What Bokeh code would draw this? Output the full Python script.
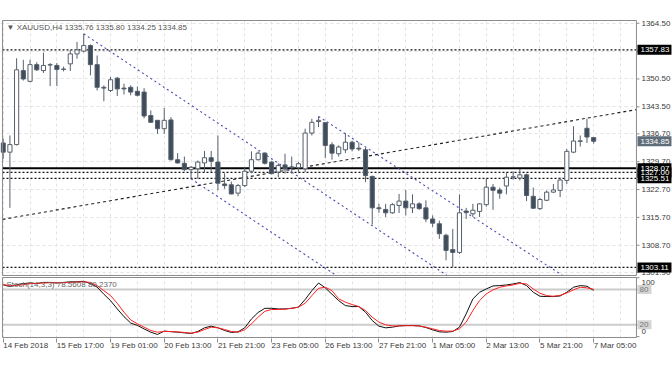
from bokeh.plotting import figure
from bokeh.layouts import column
from bokeh.models import ColumnDataSource, FixedTicker, Grid, Range1d
from bokeh.core.properties import value
from bokeh.embed import file_html
from bokeh.resources import INLINE

# ---------------- data (XAUUSD H4) ----------------
bar_open = [1334.4, 1332.1, 1334.0, 1352.6, 1349.9, 1354.1, 1352.6, 1354.0, 1353.9, 1352.9,
            1354.3, 1356.8, 1357.5, 1358.9, 1354.1, 1348.4, 1347.6, 1350.7, 1348.2, 1348.4,
            1347.4, 1347.2, 1341.3, 1340.1, 1338.0, 1340.2, 1330.2, 1329.3, 1327.7, 1327.9,
            1329.4, 1330.7, 1329.6, 1324.1, 1323.9, 1321.8, 1323.7, 1327.3, 1330.2, 1331.85,
            1329.6, 1327.1, 1328.9, 1328.4, 1328.2, 1327.9, 1336.9, 1339.8, 1339.5, 1333.95,
            1331.7, 1332.7, 1334.6, 1333.1, 1332.7, 1326.0, 1318.1, 1317.7, 1316.85, 1318.7,
            1319.8, 1318.1, 1319.1, 1318.1, 1315.3, 1314.1, 1311.2, 1307.6, 1306.9, 1317.3,
            1316.6, 1317.2, 1318.9, 1323.3, 1322.6, 1323.6, 1325.8, 1325.6, 1326.4, 1321.0,
            1317.9, 1320.0, 1322.05, 1322.5, 1325.0, 1332.1, 1334.8, 1338.1, 1335.76]
bar_high = [1335.5, 1336.3, 1355.7, 1355.3, 1355.3, 1354.7, 1357.1, 1354.5, 1354.5, 1353.6,
            1357.8, 1359.8, 1361.85, 1359.2, 1356.4, 1348.9, 1351.0, 1351.0, 1349.3, 1348.9,
            1348.6, 1348.2, 1342.6, 1340.2, 1343.2, 1340.9, 1331.85, 1331.0, 1328.6, 1330.0,
            1332.4, 1332.4, 1336.3, 1326.8, 1324.7, 1324.1, 1328.3, 1332.3, 1332.3, 1332.1,
            1329.8, 1329.3, 1331.7, 1331.0, 1329.6, 1338.0, 1340.5, 1341.1, 1339.6, 1334.6,
            1333.8, 1336.9, 1335.0, 1334.6, 1333.2, 1326.2, 1319.1, 1319.1, 1319.3, 1321.6,
            1322.6, 1321.5, 1319.5, 1320.0, 1316.2, 1314.9, 1311.6, 1312.8, 1321.5, 1318.1,
            1319.1, 1319.3, 1325.6, 1324.1, 1323.2, 1327.1, 1327.25, 1327.9, 1326.7, 1323.2,
            1320.6, 1322.5, 1324.1, 1325.7, 1332.9, 1338.6, 1336.3, 1340.5, 1335.80]
bar_low = [1330.4, 1318.1, 1333.8, 1350.1, 1349.7, 1352.5, 1352.0, 1348.7, 1348.7, 1352.4,
           1352.5, 1355.6, 1357.2, 1351.4, 1347.6, 1344.9, 1347.2, 1346.2, 1346.6, 1346.4,
           1346.1, 1340.6, 1339.5, 1336.7, 1336.7, 1330.0, 1329.2, 1327.3, 1325.4, 1325.4,
           1327.1, 1327.1, 1322.5, 1322.9, 1321.5, 1321.0, 1323.3, 1326.8, 1330.0, 1329.0,
           1326.5, 1325.8, 1326.7, 1326.7, 1327.1, 1327.1, 1336.3, 1338.4, 1330.6, 1330.2,
           1331.0, 1331.85, 1332.3, 1332.4, 1324.6, 1313.9, 1316.85, 1315.8, 1316.6, 1316.8,
           1316.2, 1316.8, 1317.6, 1314.5, 1313.3, 1310.3, 1304.9, 1303.11, 1306.5, 1315.3,
           1315.8, 1315.8, 1318.4, 1317.6, 1320.4, 1321.5, 1325.2, 1325.0, 1319.8, 1317.9,
           1317.6, 1319.8, 1321.8, 1320.8, 1324.1, 1331.85, 1333.5, 1334.4, 1334.25]
bar_close = [1332.1, 1334.0, 1352.8, 1350.5, 1354.1, 1352.8, 1353.9, 1354.1, 1352.9, 1353.0,
             1356.8, 1357.8, 1358.9, 1354.1, 1348.4, 1348.2, 1350.3, 1348.0, 1348.0, 1347.2,
             1346.4, 1341.2, 1339.6, 1338.0, 1340.1, 1330.2, 1329.4, 1327.7, 1328.3, 1329.6,
             1330.7, 1329.8, 1324.3, 1323.7, 1321.6, 1323.7, 1327.3, 1330.2, 1331.85, 1329.3,
             1326.7, 1328.75, 1327.9, 1328.2, 1329.2, 1336.9, 1339.6, 1340.1, 1333.8, 1331.85,
             1333.4, 1334.6, 1332.9, 1332.9, 1326.2, 1318.1, 1317.9, 1316.85, 1318.9, 1319.8,
             1318.1, 1319.1, 1317.9, 1315.3, 1314.25, 1311.6, 1307.4, 1306.9, 1316.85, 1316.9,
             1317.5, 1319.1, 1323.3, 1322.5, 1321.8, 1325.8, 1325.9, 1326.4, 1321.2, 1318.0,
             1320.2, 1322.05, 1322.6, 1325.1, 1332.3, 1334.9, 1334.95, 1335.9, 1334.85]

stoch_k = [88, 85, 88, 90, 91, 90, 92, 92, 91, 92, 93, 93, 94, 90, 84, 72, 61, 47, 34, 23,
           19, 13, 7.5, 3.6, 9.4, 8.3, 7.5, 6.4, 5.3, 8.7, 14.9, 17.7, 14.9, 10.4, 7, 8.1,
           14.9, 30, 41, 48, 48, 47, 47, 48, 50, 63, 78, 91, 82.7, 72, 61,
           52.7, 51, 51, 41.4, 27.3, 17.7, 14.9, 16, 18.2, 18.8, 18.8, 18.2, 15.4, 11.5, 8.1,
           7.5, 8.7, 16, 38.6, 64, 75.3, 80.9, 86, 86.6, 87.7, 89.4, 91.7, 86.6, 75.3, 68.5,
           68, 68, 69, 75.3, 83.8, 86.6, 85.5, 78.56]
stoch_d = [88, 87, 87, 88, 90, 90.5, 91, 91.5, 91.5, 91.5, 92, 92.5, 93, 92,
           86.6, 78, 69.6, 56.6, 41.4, 28.4, 21.7, 16, 10.4, 7.5, 8.7, 8.7, 8, 7, 5.8, 7.5,
           12, 16, 14.9, 12, 8.7, 7.5, 11.5, 21.7, 33, 43, 46, 46, 46.5, 48.2, 49.9, 56.6,
           69.6, 82, 83.8, 78, 64,
           58.4, 54.4, 51, 44.3, 33, 24.5, 20, 18.2, 18, 18.5, 18.5, 18, 16, 13.2, 10.4, 9.3,
           9.3, 13.2, 24.5, 44.3, 61.3, 72.5, 79.3, 83.8, 86, 87.7, 90.5, 89.4, 80.9, 73.6,
           69.6, 68.5, 70, 74.2, 79.3, 83.8, 82.7, 80.24]

time_tick_bars = [0, 8, 16, 24, 32, 40, 48, 56, 64, 72, 80, 88]
time_tick_labels = ["14 Feb 2018", "15 Feb 17:00", "19 Feb 01:00", "20 Feb 13:00",
                    "21 Feb 21:00", "23 Feb 05:00", "26 Feb 13:00", "27 Feb 21:00",
                    "1 Mar 05:00", "2 Mar 13:00", "5 Mar 21:00", "7 Mar 05:00"]
grid_bars = list(range(0, 96, 4))
price_ticks = [1364.5, 1357.5, 1350.5, 1343.5, 1336.7, 1329.7, 1322.7, 1315.7, 1308.7, 1301.9]
price_tick_labels = ["1364.50", "1357.50", "1350.50", "1343.50", "1336.70", "1329.70",
                     "1322.70", "1315.70", "1308.70", "1301.90"]

dotted_levels = [1357.83, 1327.00, 1325.51, 1303.11]
solid_level = 1328.07
level_label_order = [1327.00, 1325.51, 1328.07, 1357.83, 1303.11]
last_price = 1334.85
title_text = "\u25bc XAUUSD,H4  1335.76 1335.80 1334.25 1334.85"
stoch_title = "Stoch(14,3,3) 78.5608 80.2370"

# trend line anchor points (bar index, price)
rise_x = [-0.104, 94.38]
rise_y = [1315.2, 1342.8]
chan_x0 = [12, 28, 47]
chan_y0 = [1361.85, 1325.4, 1341.1]
chan_slope = [-1.122, -1.122, -1.10]

stoch_levels = [20, 80]
stoch_scale_ticks = [0, 20, 80, 100]

# ---------------- layout constants ----------------
PX_BAR = 6.71                       # pixels per bar
X_FRAME = (-0.402, 99.75)           # page x 0 .. 672
PANE_X = (-0.104, 94.38)            # chart window left/right edge
P1_Y = (1300.84, 1365.45)           # frame of price pane
PANE_Y1 = (1301.1, 1365.2)
PX_PRICE = 3.978
P2_Y = (-3.23, 102.04)
PANE_Y2 = (-1.53, 100.34)
PX_STO = 0.589

FONT = value("Liberation Sans")
FS = value("8px")
TXT = "#3a3a3a"
BORDER = "#8c8c8c"
GRIDC = "#e2e2e2"
BEAR = "#3f4c5c"
EDGE = "#56606c"

n = len(bar_open)
idx = list(range(n))
body_top = [max(o, c) for o, c in zip(bar_open, bar_close)]
body_bot = [min(o, c) for o, c in zip(bar_open, bar_close)]
fills = ["white" if c >= o else BEAR for o, c in zip(bar_open, bar_close)]
src = ColumnDataSource(dict(x=idx, o=bar_open, h=bar_high, l=bar_low, c=bar_close,
                            top=body_top, bot=body_bot, fill=fills, k=stoch_k, d=stoch_d))

xr = Range1d(*X_FRAME)


def px_x(px):
    return px / PX_BAR


# ================= price pane =================
p1 = figure(x_range=xr, y_range=Range1d(*P1_Y), frame_width=672, frame_height=257,
            x_axis_location=None, y_axis_location=None, output_backend="svg",
            toolbar_location=None, min_border_left=0, min_border_right=0,
            min_border_top=19, min_border_bottom=0)
p1.outline_line_color = None
p1.background_fill_color = "white"
p1.border_fill_color = "white"
p1.grid.visible = False
p1.add_layout(Grid(dimension=0, ticker=FixedTicker(ticks=grid_bars),
                   grid_line_color=GRIDC, grid_line_dash="3 3"))
p1.add_layout(Grid(dimension=1, ticker=FixedTicker(ticks=price_ticks),
                   grid_line_color=GRIDC, grid_line_dash="3 3"))

# horizontal levels
p1.segment(x0=[PANE_X[0]] * len(dotted_levels), y0=dotted_levels,
           x1=[PANE_X[1]] * len(dotted_levels), y1=dotted_levels,
           line_color="#111111", line_dash="2 2", line_width=1.2)
p1.segment(x0=[PANE_X[0]], y0=[solid_level], x1=[PANE_X[1]], y1=[solid_level],
           line_color="#000000", line_width=2)

# trend lines
p1.line(x=rise_x, y=rise_y, line_color="#222222", line_dash="3 3", line_width=1.1)
for x0, y0, s in zip(chan_x0, chan_y0, chan_slope):
    run = 70
    p1.line(x=[x0, x0 + run], y=[y0, y0 + s * run], line_color="#4848b4",
            line_dash="2 3", line_width=1.1)

# candles
p1.segment(x0="x", y0="h", x1="x", y1="l", source=src, line_color=EDGE, line_width=1)
p1.vbar(x="x", width=0.62, top="top", bottom="bot", source=src, fill_color="fill",
        line_color=EDGE, line_width=1)

# price scale strip (outside the chart window)
p1.quad(left=[PANE_X[1]], right=[X_FRAME[1]], bottom=[P1_Y[0]], top=[P1_Y[1]],
        fill_color="white", line_color=None)
p1.quad(left=[PANE_X[0]], right=[PANE_X[1]], bottom=[PANE_Y1[0]], top=[PANE_Y1[1]],
        fill_color=None, line_color=BORDER, line_width=1)
p1.segment(x0=[PANE_X[1]] * len(price_ticks), y0=price_ticks,
           x1=[PANE_X[1] + px_x(3)] * len(price_ticks), y1=price_ticks,
           line_color=BORDER, line_width=1)
p1.text(x=[PANE_X[1]] * len(price_ticks), y=price_ticks, text=price_tick_labels,
        x_offset=5, text_font=FONT, text_font_size=FS, text_color=TXT,
        text_align="left", text_baseline="middle")

lbl_x = PANE_X[1] + px_x(18)
p1.rect(x=[lbl_x] * len(level_label_order), y=level_label_order, width=34, height=10,
        width_units="screen", height_units="screen", fill_color="black", line_color=None)
p1.text(x=[PANE_X[1]] * len(level_label_order), y=level_label_order,
        text=[f"{v:.2f}" for v in level_label_order], x_offset=4, text_font=FONT,
        text_font_size=FS, text_color="white", text_align="left", text_baseline="middle")
p1.rect(x=[lbl_x], y=[last_price], width=34, height=10, width_units="screen",
        height_units="screen", fill_color="#5f6c7a", line_color=None)
p1.text(x=[PANE_X[1]], y=[last_price], text=[f"{last_price:.2f}"], x_offset=4,
        text_font=FONT, text_font_size=FS, text_color="white", text_align="left",
        text_baseline="middle")

p1.text(x=[PANE_X[0]], y=[PANE_Y1[1] - 7 / PX_PRICE], text=[title_text], x_offset=4,
        text_font=FONT, text_font_size=FS, text_color="#555555", text_align="left",
        text_baseline="middle")

# ================= stochastic pane =================
p2 = figure(x_range=xr, y_range=Range1d(*P2_Y), frame_width=672, frame_height=62,
            x_axis_location="below", y_axis_location=None, output_backend="svg",
            toolbar_location=None, min_border_left=0, min_border_right=0,
            min_border_top=0, min_border_bottom=4)
p2.outline_line_color = None
p2.background_fill_color = "white"
p2.border_fill_color = "white"
p2.grid.visible = False
p2.add_layout(Grid(dimension=0, ticker=FixedTicker(ticks=grid_bars),
                   grid_line_color=GRIDC, grid_line_dash="3 3"))

bx = p2.xaxis[0]
bx.ticker = FixedTicker(ticks=time_tick_bars)
bx.major_label_overrides = {t: s for t, s in zip(time_tick_bars, time_tick_labels)}
bx.major_label_orientation = -0.0001
bx.major_label_text_font = "Liberation Sans"
bx.major_label_text_font_size = "8px"
bx.major_label_text_color = TXT
bx.axis_line_color = None
bx.major_tick_line_color = BORDER
bx.major_tick_out = 4
bx.major_tick_in = 0
bx.minor_tick_line_color = None
bx.major_label_standoff = 3

p2.segment(x0=[PANE_X[0]] * 2, y0=stoch_levels, x1=[PANE_X[1]] * 2, y1=stoch_levels,
           line_color="#cccccc", line_width=2)
p2.line(x="x", y="k", source=src, line_color="#111111", line_width=1)
p2.line(x="x", y="d", source=src, line_color="#ff2020", line_width=1)

p2.quad(left=[PANE_X[1]], right=[X_FRAME[1]], bottom=[P2_Y[0]], top=[P2_Y[1]],
        fill_color="white", line_color=None)
p2.quad(left=[PANE_X[0]], right=[PANE_X[1]], bottom=[PANE_Y2[0]], top=[PANE_Y2[1]],
        fill_color=None, line_color=BORDER, line_width=1)
p2.segment(x0=[PANE_X[1]] * 4, y0=stoch_scale_ticks, x1=[PANE_X[1] + px_x(3)] * 4,
           y1=stoch_scale_ticks, line_color=BORDER, line_width=1)
p2.rect(x=[PANE_X[1] + px_x(8)] * 2, y=stoch_levels, width=14, height=9,
        width_units="screen", height_units="screen", fill_color="#d4d4d4", line_color=None)
p2.text(x=[PANE_X[1]] * 2, y=stoch_levels, text=[str(v) for v in stoch_levels], x_offset=3,
        text_font=FONT, text_font_size=FS, text_color="#777777", text_align="left",
        text_baseline="middle")
p2.text(x=[PANE_X[1]], y=[100 - 5 / PX_STO], text=["100"], x_offset=5, text_font=FONT,
        text_font_size=FS, text_color=TXT, text_align="left", text_baseline="middle")
p2.text(x=[PANE_X[1]], y=[0 + 5 / PX_STO], text=["0"], x_offset=5, text_font=FONT,
        text_font_size=FS, text_color=TXT, text_align="left", text_baseline="middle")
p2.text(x=[PANE_X[0]], y=[PANE_Y2[1] - 7 / PX_STO], text=[stoch_title], x_offset=4,
        text_font=FONT, text_font_size=FS, text_color="#666666", text_align="left",
        text_baseline="middle")

layout = column(p1, p2, spacing=0)

open("out.html", "w").write(file_html(layout, INLINE))
